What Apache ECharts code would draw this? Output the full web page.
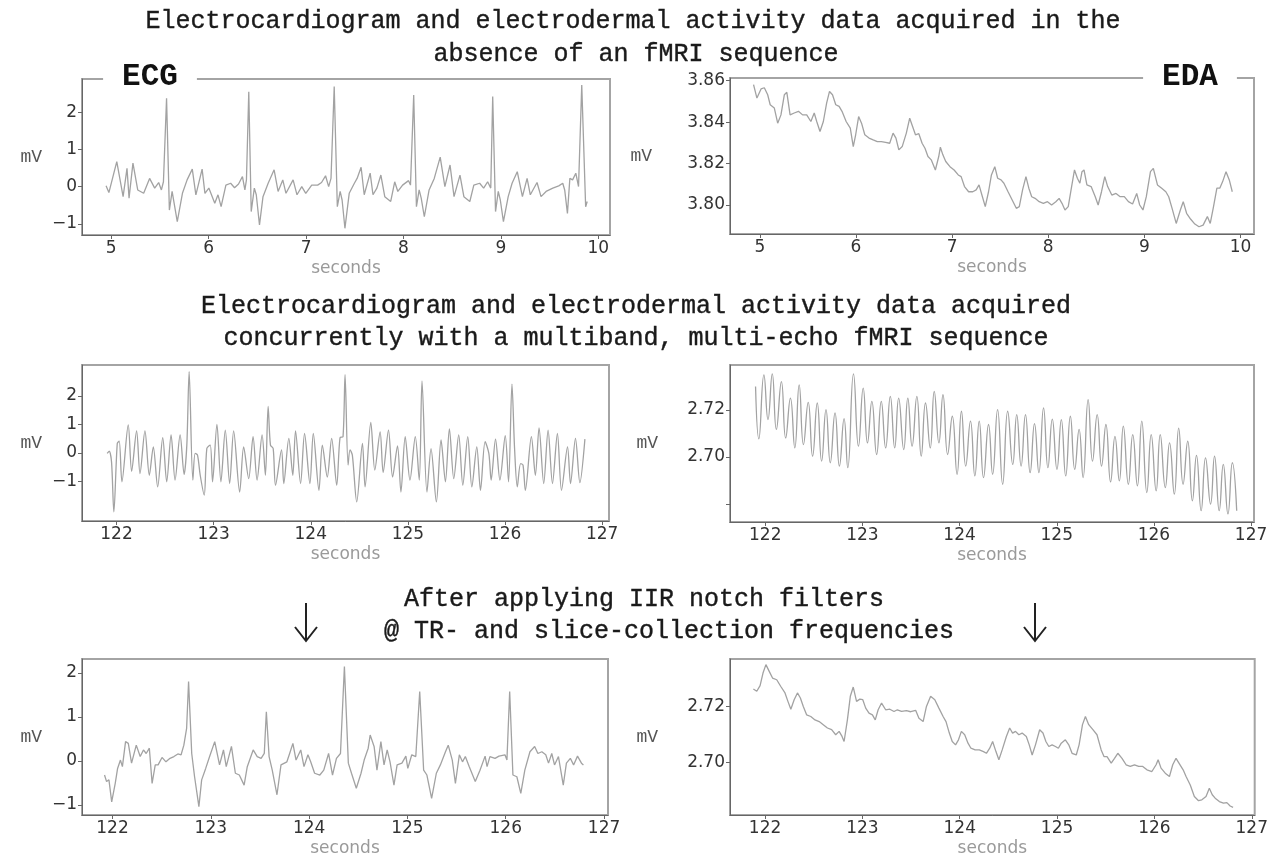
<!DOCTYPE html>
<html>
<head>
<meta charset="utf-8">
<script src="https://cdn.jsdelivr.net/npm/echarts@6.0.0/dist/echarts.min.js"></script>
<style>
  html, body { margin: 0; padding: 0; background: #fff; }
  #main { width: 1271px; height: 860px; }
</style>
</head>
<body>
<div id="main"></div>
<script>
// ---- data (seconds / mV) ----
// ECG, no fMRI
var ecgRestT = [4.947, 4.976, 5.057, 5.122, 5.162, 5.183, 5.223, 5.272, 5.333, 5.394,
  5.446, 5.487, 5.515, 5.536, 5.568, 5.597, 5.625, 5.645, 5.678, 5.731,
  5.779, 5.832, 5.869, 5.933, 5.962, 6.002, 6.063, 6.096, 6.128, 6.177,
  6.226, 6.266, 6.307, 6.347, 6.372, 6.388, 6.412, 6.437, 6.469, 6.489,
  6.522, 6.558, 6.611, 6.672, 6.713, 6.761, 6.794, 6.867, 6.907, 6.956,
  6.997, 7.058, 7.119, 7.159, 7.200, 7.232, 7.256, 7.289, 7.321, 7.350,
  7.370, 7.399, 7.443, 7.496, 7.524, 7.565, 7.597, 7.658, 7.687, 7.727,
  7.768, 7.808, 7.869, 7.910, 7.942, 7.991, 8.052, 8.072, 8.105, 8.133,
  8.161, 8.182, 8.214, 8.263, 8.316, 8.377, 8.425, 8.478, 8.519, 8.580,
  8.620, 8.681, 8.722, 8.782, 8.823, 8.864, 8.896, 8.916, 8.945, 8.973,
  8.994, 9.026, 9.075, 9.115, 9.168, 9.221, 9.269, 9.302, 9.371, 9.412,
  9.464, 9.533, 9.594, 9.635, 9.655, 9.683, 9.708, 9.736, 9.769, 9.797,
  9.830, 9.870, 9.886];
var ecgRestV = [0.02, -0.16, 0.67, -0.27, 0.49, -0.31, 0.63, -0.09, -0.18, 0.22,
  -0.04, 0.11, -0.09, 0.13, 2.37, -0.63, -0.13, -0.18, -0.94, -0.18,
  0.18, 0.47, -0.22, 0.47, -0.18, -0.04, -0.45, -0.22, -0.54, 0.04,
  0.09, -0.03, 0.07, 0.27, -0.09, 0.18, 2.55, -0.67, -0.04, -0.22,
  -1.03, -0.27, 0.09, 0.45, -0.13, 0.18, -0.18, 0.18, -0.22, 0.00,
  -0.18, 0.04, 0.04, 0.11, 0.29, 0.00, 0.22, 2.69, -0.54, -0.13,
  -0.36, -1.12, -0.18, 0.09, 0.22, 0.52, -0.22, 0.36, -0.22, -0.04,
  0.31, -0.27, -0.40, 0.13, -0.13, 0.04, 0.16, 0.04, 2.46, -0.54,
  -0.09, -0.31, -0.81, -0.09, 0.22, 0.79, 0.00, 0.58, -0.27, 0.31,
  -0.27, -0.40, 0.04, 0.09, -0.04, 0.13, -0.04, 2.42, -0.67, -0.13,
  -0.36, -0.94, -0.27, 0.09, 0.40, -0.27, 0.22, -0.22, 0.11, -0.27,
  -0.13, -0.04, 0.02, 0.09, -0.09, -0.72, 0.22, 0.18, 0.36, 0.00,
  2.73, -0.54, -0.40];

// EDA, no fMRI
var edaRestT = [4.935, 4.970, 5.013, 5.047, 5.082, 5.108, 5.151, 5.186, 5.220, 5.255,
  5.281, 5.315, 5.358, 5.402, 5.445, 5.488, 5.531, 5.566, 5.592, 5.626,
  5.661, 5.695, 5.725, 5.756, 5.790, 5.825, 5.855, 5.898, 5.941, 5.972,
  5.997, 6.028, 6.058, 6.092, 6.136, 6.179, 6.222, 6.265, 6.308, 6.351,
  6.386, 6.416, 6.446, 6.481, 6.524, 6.559, 6.589, 6.619, 6.654, 6.688,
  6.718, 6.749, 6.783, 6.826, 6.861, 6.878, 6.904, 6.934, 6.978, 7.021,
  7.064, 7.094, 7.129, 7.172, 7.215, 7.250, 7.280, 7.310, 7.345, 7.379,
  7.409, 7.444, 7.474, 7.509, 7.539, 7.582, 7.625, 7.668, 7.699, 7.733,
  7.768, 7.798, 7.828, 7.863, 7.906, 7.949, 7.992, 8.035, 8.079, 8.113,
  8.143, 8.174, 8.208, 8.243, 8.273, 8.303, 8.329, 8.351, 8.372, 8.402,
  8.446, 8.489, 8.519, 8.554, 8.588, 8.618, 8.661, 8.705, 8.748, 8.791,
  8.834, 8.877, 8.920, 8.951, 8.985, 9.020, 9.063, 9.093, 9.136, 9.180,
  9.223, 9.253, 9.288, 9.331, 9.374, 9.404, 9.439, 9.482, 9.525, 9.568,
  9.611, 9.655, 9.685, 9.719, 9.754, 9.784, 9.814, 9.849, 9.883, 9.914];
var edaRestV = [3.8581, 3.8516, 3.8560, 3.8566, 3.8532, 3.8484, 3.8468, 3.8395, 3.8435, 3.8532,
  3.8544, 3.8435, 3.8444, 3.8452, 3.8435, 3.8435, 3.8403, 3.8444, 3.8403, 3.8355,
  3.8403, 3.8492, 3.8548, 3.8532, 3.8484, 3.8476, 3.8452, 3.8403, 3.8371, 3.8282,
  3.8339, 3.8427, 3.8395, 3.8339, 3.8323, 3.8314, 3.8306, 3.8306, 3.8302, 3.8298,
  3.8347, 3.8323, 3.8266, 3.8282, 3.8347, 3.8419, 3.8379, 3.8339, 3.8344, 3.8298,
  3.8274, 3.8234, 3.8218, 3.8169, 3.8234, 3.8279, 3.8242, 3.8210, 3.8185, 3.8169,
  3.8145, 3.8137, 3.8089, 3.8064, 3.8064, 3.8073, 3.8097, 3.8048, 3.7992, 3.8064,
  3.8145, 3.8185, 3.8129, 3.8121, 3.8105, 3.8064, 3.8024, 3.7984, 3.7992, 3.8073,
  3.8137, 3.8081, 3.8040, 3.8032, 3.8016, 3.8008, 3.8016, 3.8000, 3.8016, 3.8032,
  3.8008, 3.7976, 3.7992, 3.8089, 3.8169, 3.8129, 3.8105, 3.8161, 3.8169, 3.8097,
  3.8089, 3.8040, 3.8000, 3.8064, 3.8137, 3.8089, 3.8048, 3.8056, 3.8040, 3.8040,
  3.8016, 3.8005, 3.8056, 3.8000, 3.7976, 3.8040, 3.8161, 3.8177, 3.8097, 3.8081,
  3.8064, 3.8040, 3.7984, 3.7911, 3.7976, 3.8016, 3.7960, 3.7931, 3.7908, 3.7895,
  3.7903, 3.7944, 3.7911, 3.7992, 3.8081, 3.8081, 3.8113, 3.8161, 3.8121, 3.8064];

// ECG during multiband multi-echo fMRI
var ecgScanT = [121.904, 121.925, 121.949, 121.973, 122.008, 122.028, 122.056, 122.121, 122.156, 122.207,
  122.242, 122.293, 122.338, 122.379, 122.424, 122.476, 122.517, 122.562, 122.603, 122.655,
  122.696, 122.724, 122.748, 122.786, 122.810, 122.834, 122.862, 122.903, 122.930, 122.965,
  122.989, 123.034, 123.075, 123.120, 123.165, 123.206, 123.268, 123.309, 123.361, 123.406,
  123.447, 123.499, 123.533, 123.561, 123.585, 123.613, 123.637, 123.699, 123.722, 123.774,
  123.815, 123.843, 123.895, 123.936, 123.991, 124.026, 124.084, 124.119, 124.170, 124.215,
  124.267, 124.301, 124.332, 124.353, 124.384, 124.404, 124.428, 124.473, 124.532, 124.559,
  124.618, 124.659, 124.714, 124.745, 124.800, 124.842, 124.893, 124.928, 124.972, 125.021,
  125.076, 125.117, 125.145, 125.196, 125.238, 125.293, 125.341, 125.386, 125.427, 125.472,
  125.523, 125.565, 125.616, 125.658, 125.709, 125.747, 125.795, 125.833, 125.857, 125.902,
  125.947, 126.002, 126.036, 126.071, 126.098, 126.126, 126.160, 126.185, 126.209, 126.271,
  126.312, 126.350, 126.398, 126.443, 126.488, 126.539, 126.581, 126.643, 126.674, 126.725,
  126.770, 126.822];
var ecgScanV = [-0.02, 0.06, -0.32, -2.08, 0.33, 0.41, -1.02, 0.98, -0.65, 0.77,
  -0.73, 0.77, -0.79, 0.21, -1.20, 0.53, -1.02, 0.63, -0.96, 0.63,
  -0.76, 0.27, 2.86, -0.96, -0.02, -0.08, -0.79, -1.49, 0.15, 0.27,
  -1.02, 1.00, -1.02, 0.80, -1.08, 0.77, -1.38, 0.21, -0.91, 0.57,
  -0.96, 0.63, -0.79, 1.63, 0.27, 0.15, -1.14, 0.10, -1.08, 0.51,
  -0.79, 0.77, -1.08, 0.68, -1.08, 0.68, -1.32, 0.27, -0.85, 0.51,
  -1.14, 0.53, 0.57, 2.75, -0.43, 0.10, -0.08, -1.73, 0.33, -1.20,
  1.07, -0.61, 0.74, -0.69, 0.80, -0.85, 0.24, -1.38, 0.57, -0.96,
  0.57, -0.96, 2.53, -1.38, 0.15, -1.73, 0.45, -1.02, 0.84, -0.91,
  0.63, -1.14, 0.57, -1.20, 0.21, -1.32, 0.39, -0.02, -0.96, 0.48,
  -0.96, 0.60, -1.02, 2.42, 0.15, -1.20, -0.38, -0.43, -1.32, 0.57,
  -0.79, 0.88, -1.08, 0.80, -1.08, 0.68, -1.32, 0.21, -1.08, 0.51,
  -1.05, 0.48];

// EDA during fMRI
var edaScanT = [121.900, 121.934, 121.986, 122.028, 122.072, 122.114, 122.166, 122.210, 122.259, 122.304,
  122.349, 122.393, 122.442, 122.487, 122.535, 122.580, 122.625, 122.669, 122.718, 122.763,
  122.811, 122.849, 122.908, 122.959, 123.008, 123.052, 123.097, 123.146, 123.194, 123.239,
  123.287, 123.332, 123.373, 123.425, 123.467, 123.511, 123.560, 123.605, 123.649, 123.698,
  123.739, 123.787, 123.829, 123.877, 123.925, 123.974, 124.019, 124.063, 124.112, 124.157,
  124.202, 124.246, 124.298, 124.340, 124.391, 124.443, 124.495, 124.547, 124.588, 124.633,
  124.678, 124.726, 124.771, 124.816, 124.864, 124.909, 124.954, 125.002, 125.047, 125.092,
  125.140, 125.185, 125.230, 125.271, 125.323, 125.368, 125.416, 125.461, 125.506, 125.554,
  125.599, 125.644, 125.685, 125.737, 125.782, 125.830, 125.875, 125.927, 125.972, 126.023,
  126.065, 126.117, 126.161, 126.210, 126.255, 126.300, 126.348, 126.396, 126.438, 126.486,
  126.531, 126.583, 126.624, 126.672, 126.714, 126.762, 126.807, 126.852];
var edaScanV = [2.7299, 2.7077, 2.7348, 2.7159, 2.7352, 2.7117, 2.7320, 2.7081, 2.7250, 2.7039,
  2.7306, 2.7053, 2.7232, 2.7004, 2.7229, 2.6983, 2.7201, 2.6976, 2.7187, 2.6962,
  2.7163, 2.6955, 2.7352, 2.7046, 2.7292, 2.7060, 2.7236, 2.7011, 2.7236, 2.7039,
  2.7257, 2.7039, 2.7250, 2.7032, 2.7250, 2.7046, 2.7257, 2.7004, 2.7229, 2.7039,
  2.7278, 2.7060, 2.7264, 2.7011, 2.7173, 2.6927, 2.7194, 2.6962, 2.7152, 2.6920,
  2.7152, 2.6913, 2.7138, 2.6927, 2.7201, 2.6885, 2.7194, 2.6969, 2.7180, 2.6962,
  2.7180, 2.6934, 2.7142, 2.6934, 2.7208, 2.6955, 2.7161, 2.6948, 2.7159, 2.6920,
  2.7173, 2.6948, 2.7117, 2.6913, 2.7243, 2.6983, 2.7180, 2.6962, 2.7138, 2.6895,
  2.7088, 2.6899, 2.7131, 2.6885, 2.7095, 2.6878, 2.7152, 2.6850, 2.7095, 2.6857,
  2.7095, 2.6871, 2.7060, 2.6843, 2.7123, 2.6885, 2.7067, 2.6815, 2.7007, 2.6773,
  2.6997, 2.6801, 2.7004, 2.6773, 2.6969, 2.6759, 2.6976, 2.6773];

// ECG after IIR notch filters
var ecgFiltT = [121.919, 121.940, 121.964, 121.992, 122.028, 122.052, 122.081, 122.101, 122.133, 122.161,
  122.194, 122.242, 122.282, 122.315, 122.343, 122.375, 122.403, 122.435, 122.464, 122.504,
  122.544, 122.585, 122.625, 122.665, 122.698, 122.726, 122.754, 122.774, 122.806, 122.835,
  122.879, 122.907, 122.948, 122.988, 123.040, 123.089, 123.129, 123.157, 123.210, 123.250,
  123.290, 123.339, 123.371, 123.431, 123.472, 123.512, 123.544, 123.565, 123.593, 123.625,
  123.673, 123.714, 123.774, 123.802, 123.835, 123.867, 123.915, 123.948, 123.988, 124.016,
  124.056, 124.109, 124.149, 124.198, 124.238, 124.278, 124.319, 124.359, 124.399, 124.431,
  124.480, 124.528, 124.560, 124.601, 124.621, 124.661, 124.690, 124.730, 124.762, 124.794,
  124.823, 124.863, 124.895, 124.944, 124.984, 125.004, 125.044, 125.085, 125.125, 125.165,
  125.198, 125.246, 125.294, 125.335, 125.387, 125.415, 125.456, 125.488, 125.528, 125.560,
  125.589, 125.629, 125.690, 125.738, 125.790, 125.810, 125.839, 125.891, 125.931, 125.992,
  126.012, 126.040, 126.073, 126.113, 126.153, 126.194, 126.246, 126.294, 126.327, 126.367,
  126.407, 126.435, 126.468, 126.496, 126.536, 126.585, 126.617, 126.657, 126.690, 126.730,
  126.770, 126.790];
var ecgFiltV = [-0.32, -0.47, -0.43, -0.93, -0.51, -0.17, 0.02, -0.13, 0.44, 0.40,
  -0.05, 0.36, 0.10, 0.25, 0.17, 0.29, -0.51, -0.09, -0.09, 0.08,
  -0.02, 0.06, 0.10, 0.16, 0.14, 0.36, 0.74, 1.81, 0.17, -0.36,
  -1.04, -0.43, -0.17, 0.10, 0.44, -0.09, 0.25, -0.13, 0.33, -0.28,
  -0.32, -0.55, -0.13, 0.25, 0.10, 0.06, 0.17, 1.12, 0.10, -0.21,
  -0.77, -0.09, -0.02, 0.17, 0.40, 0.02, 0.25, -0.13, 0.14, -0.02,
  -0.28, -0.32, -0.21, 0.17, -0.32, 0.06, 0.17, 2.15, -0.05, -0.28,
  -0.62, -0.28, 0.02, 0.29, 0.59, 0.33, -0.21, 0.44, -0.09, 0.25,
  -0.02, -0.55, -0.09, -0.05, 0.11, -0.17, 0.14, 0.10, 1.58, -0.21,
  -0.32, -0.85, -0.28, -0.09, 0.21, 0.36, 0.02, -0.51, 0.14, -0.02,
  0.10, -0.13, -0.47, -0.21, 0.11, -0.13, 0.10, 0.06, 0.11, 0.14,
  0.02, 1.58, -0.32, -0.36, -0.74, -0.21, 0.21, 0.33, 0.17, 0.21,
  0.14, -0.05, 0.17, -0.09, 0.10, -0.55, -0.05, 0.06, -0.09, 0.11,
  -0.05, -0.09];

// EDA after IIR notch filters
var edaFiltT = [121.880, 121.915, 121.949, 121.979, 122.009, 122.043, 122.077, 122.120, 122.162, 122.205,
  122.235, 122.265, 122.299, 122.333, 122.363, 122.393, 122.427, 122.470, 122.513, 122.556,
  122.598, 122.641, 122.684, 122.726, 122.761, 122.791, 122.812, 122.846, 122.876, 122.906,
  122.940, 122.974, 123.004, 123.034, 123.068, 123.103, 123.132, 123.162, 123.197, 123.239,
  123.282, 123.325, 123.359, 123.402, 123.453, 123.496, 123.547, 123.581, 123.624, 123.658,
  123.701, 123.744, 123.786, 123.829, 123.859, 123.893, 123.923, 123.957, 123.987, 124.017,
  124.051, 124.085, 124.115, 124.158, 124.201, 124.244, 124.274, 124.308, 124.338, 124.372,
  124.402, 124.436, 124.479, 124.513, 124.543, 124.573, 124.607, 124.641, 124.684, 124.714,
  124.744, 124.778, 124.821, 124.855, 124.885, 124.915, 124.949, 124.983, 125.013, 125.043,
  125.085, 125.120, 125.154, 125.197, 125.226, 125.261, 125.291, 125.325, 125.368, 125.410,
  125.453, 125.483, 125.513, 125.556, 125.590, 125.624, 125.667, 125.709, 125.752, 125.795,
  125.838, 125.880, 125.923, 125.974, 126.017, 126.038, 126.068, 126.111, 126.154, 126.188,
  126.222, 126.252, 126.295, 126.325, 126.368, 126.410, 126.453, 126.487, 126.530, 126.564,
  126.594, 126.624, 126.667, 126.709, 126.744, 126.778, 126.808];
var edaFiltV = [2.7262, 2.7254, 2.7274, 2.7319, 2.7349, 2.7325, 2.7301, 2.7295, 2.7271, 2.7248,
  2.7218, 2.7190, 2.7224, 2.7248, 2.7230, 2.7200, 2.7170, 2.7164, 2.7152, 2.7146,
  2.7135, 2.7123, 2.7117, 2.7099, 2.7111, 2.7093, 2.7075, 2.7152, 2.7236, 2.7269,
  2.7218, 2.7226, 2.7224, 2.7194, 2.7176, 2.7170, 2.7152, 2.7188, 2.7212, 2.7188,
  2.7190, 2.7182, 2.7188, 2.7182, 2.7185, 2.7181, 2.7186, 2.7158, 2.7146, 2.7200,
  2.7236, 2.7224, 2.7194, 2.7164, 2.7146, 2.7105, 2.7075, 2.7063, 2.7081, 2.7111,
  2.7099, 2.7069, 2.7051, 2.7045, 2.7045, 2.7039, 2.7033, 2.7051, 2.7075, 2.7039,
  2.7010, 2.7045, 2.7093, 2.7123, 2.7105, 2.7111, 2.7099, 2.7105, 2.7093, 2.7063,
  2.7027, 2.7063, 2.7117, 2.7105, 2.7075, 2.7057, 2.7063, 2.7057, 2.7051, 2.7069,
  2.7081, 2.7063, 2.7033, 2.7027, 2.7063, 2.7135, 2.7164, 2.7135, 2.7117, 2.7099,
  2.7045, 2.7021, 2.7021, 2.6998, 2.7015, 2.7033, 2.7015, 2.6992, 2.6986, 2.6992,
  2.6986, 2.6986, 2.6974, 2.6968, 2.6992, 2.7010, 2.6980, 2.6962, 2.6950, 2.6992,
  2.7015, 2.6998, 2.6974, 2.6950, 2.6920, 2.6879, 2.6864, 2.6867, 2.6879, 2.6908,
  2.6885, 2.6873, 2.6861, 2.6855, 2.6857, 2.6845, 2.6840];

// tick values
var restTicks = [5, 6, 7, 8, 9, 10];
var scanTicks = [122, 123, 124, 125, 126, 127];
var ecgYTicks = [-1, 0, 1, 2];
var edaRestYTicks = [3.80, 3.82, 3.84, 3.86];
var edaScanYTicks = [2.68, 2.70, 2.72];
var edaScanYLabels = [2.70, 2.72];
var edaFiltYTicks = [2.70, 2.72];

// texts
var titleRest = ['Electrocardiogram and electrodermal activity data acquired in the', 'absence of an fMRI sequence'];
var titleScan = ['Electrocardiogram and electrodermal activity data acquired', 'concurrently with a multiband, multi-echo fMRI sequence'];
var titleFilt = ['After applying IIR notch filters', '@ TR- and slice-collection frequencies'];

// ---- layout ----
var panels = [
  { box: [82, 79, 528, 156], x: [4.70, 10.12], y: [-1.30, 2.89], t: ecgRestT, v: ecgRestV, xt: restTicks, yt: ecgYTicks, yl: ecgYTicks, eda: false, gap: 40, smooth: false },
  { box: [730, 78, 524, 156], x: [4.69, 10.14], y: [3.786, 3.8613], t: edaRestT, v: edaRestV, xt: restTicks, yt: edaRestYTicks, yl: edaRestYTicks, eda: true, gap: 78, smooth: false },
  { box: [82, 365, 527, 156], x: [121.645, 127.07], y: [-2.40, 3.09], t: ecgScanT, v: ecgScanV, xt: scanTicks, yt: ecgYTicks, yl: ecgYTicks, eda: false, gap: 40, smooth: 0.3 },
  { box: [730, 365, 524, 157], x: [121.637, 127.03], y: [2.6725, 2.739], t: edaScanT, v: edaScanV, xt: scanTicks, yt: edaScanYTicks, yl: edaScanYLabels, eda: true, gap: 72, smooth: 0.5 },
  { box: [82, 659, 526, 156], x: [121.69, 127.04], y: [-1.23, 2.32], t: ecgFiltT, v: ecgFiltV, xt: scanTicks, yt: ecgYTicks, yl: ecgYTicks, eda: false, gap: 40, smooth: false },
  { box: [730, 659, 525, 156], x: [121.64, 127.03], y: [2.6813, 2.7369], t: edaFiltT, v: edaFiltV, xt: scanTicks, yt: edaFiltYTicks, yl: edaFiltYTicks, eda: true, gap: 72, smooth: false }
];

function pairs(t, v) {
  var out = [];
  for (var i = 0; i < t.length; i++) {
    out.push([t[i], v[i]]);
  }
  return out;
}

function ecgFmt(val) {
  return (val < 0 ? '\u2212' : '') + Math.abs(val);
}
function edaFmt(val) {
  return val.toFixed(2);
}

var grids = [], xAxes = [], yAxes = [], series = [];
panels.forEach(function (p, i) {
  grids.push({
    left: p.box[0], top: p.box[1], width: p.box[2], height: p.box[3],
    show: true, borderColor: '#a4a4a4', borderWidth: 2
  });
  xAxes.push({
    type: 'value', gridIndex: i, min: p.x[0], max: p.x[1],
    name: 'seconds', nameLocation: 'middle', nameGap: 25,
    nameTextStyle: { color: '#9a9a9a', fontFamily: 'DejaVu Sans', fontSize: 17 },
    axisLine: { onZero: false, lineStyle: { color: '#666', width: 1 } },
    axisTick: { customValues: p.xt, length: 4, lineStyle: { color: '#666' } },
    axisLabel: { customValues: p.xt, margin: 5, color: '#333', fontFamily: 'DejaVu Sans', fontSize: 17, hideOverlap: false },
    splitLine: { show: false }
  });
  yAxes.push({
    type: 'value', gridIndex: i, min: p.y[0], max: p.y[1],
    name: 'mV', nameLocation: 'middle', nameRotate: 0, nameGap: p.gap,
    nameTextStyle: { color: '#555', fontFamily: 'Liberation Mono', fontSize: 18 },
    axisLine: { onZero: false, lineStyle: { color: '#666', width: 1 } },
    axisTick: { customValues: p.yt, length: 4, lineStyle: { color: '#666' } },
    axisLabel: { customValues: p.yl, margin: 5, color: '#333', fontFamily: 'DejaVu Sans', fontSize: 17,
      formatter: p.eda ? edaFmt : ecgFmt, hideOverlap: false },
    splitLine: { show: false }
  });
  series.push({
    type: 'line', xAxisIndex: i, yAxisIndex: i, data: pairs(p.t, p.v),
    showSymbol: false, smooth: p.smooth, silent: true,
    lineStyle: { color: '#a2a2a2', width: 1.3 }
  });
});

// titles, panel tags and arrows
function titleText(str, x, y) {
  return {
    type: 'text', x: x, y: y, z: 100,
    style: { text: str, fontFamily: 'Liberation Mono', fontSize: 25, fill: '#1a1a1a',
      stroke: '#1a1a1a', lineWidth: 0.4, align: 'center', verticalAlign: 'middle' }
  };
}
function tag(str, x, y) {
  return {
    type: 'text', x: x, y: y, z: 100,
    style: { text: str, fontFamily: 'Liberation Mono', fontWeight: 'bold', fontSize: 31, fill: '#111',
      align: 'center', verticalAlign: 'middle', backgroundColor: '#fff', padding: [2, 19] }
  };
}
function arrow(x) {
  return {
    type: 'group', z: 100,
    children: [
      { type: 'line', shape: { x1: x, y1: 603, x2: x, y2: 641 }, style: { stroke: '#222', lineWidth: 2 } },
      { type: 'polyline', shape: { points: [[x - 11, 627], [x, 641], [x + 11, 627]] }, style: { stroke: '#222', lineWidth: 2, fill: null } }
    ]
  };
}

var graphics = [
  titleText(titleRest[0], 633, 21),
  titleText(titleRest[1], 636, 54),
  titleText(titleScan[0], 636, 306),
  titleText(titleScan[1], 636, 338),
  titleText(titleFilt[0], 644, 599),
  titleText(titleFilt[1], 669, 631),
  tag('ECG', 150, 77),
  tag('EDA', 1190, 77),
  arrow(306),
  arrow(1035)
];

var chart = echarts.init(document.getElementById('main'), null, { renderer: 'canvas' });
chart.setOption({
  backgroundColor: '#fff',
  animation: false,
  grid: grids,
  xAxis: xAxes,
  yAxis: yAxes,
  series: series,
  graphic: graphics
});
</script>
</body>
</html>
